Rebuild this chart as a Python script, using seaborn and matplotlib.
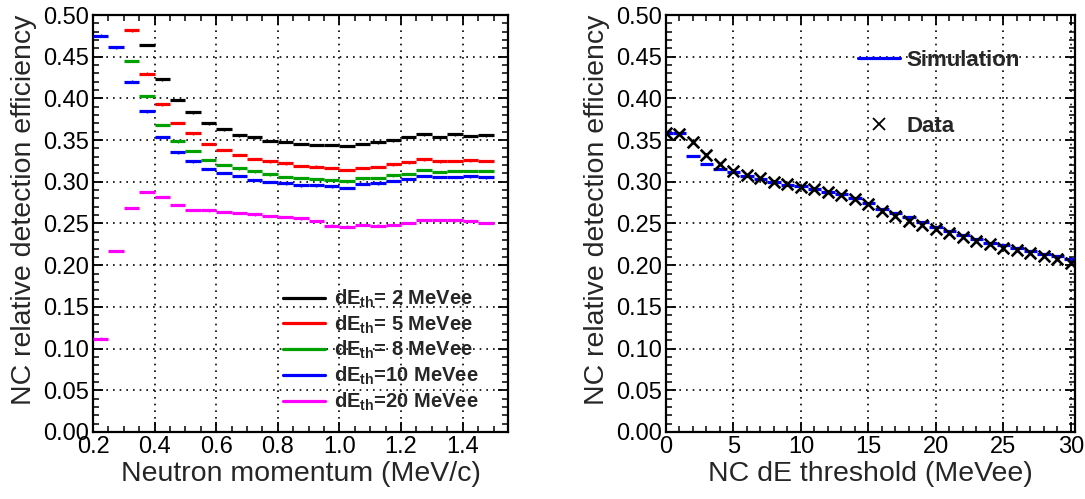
import numpy as np
import pandas as pd
import matplotlib
matplotlib.use("Agg")
import matplotlib.pyplot as plt
import seaborn as sns
from matplotlib.lines import Line2D
from matplotlib.ticker import MultipleLocator, FormatStrFormatter

# ---------------- data ----------------
nan = np.nan
mom_lo = [round(0.20 + 0.05 * i, 2) for i in range(26)]
mom_hi = [round(0.25 + 0.05 * i, 2) for i in range(26)]

eff_2 = [nan, nan, nan, 0.464, 0.4228, 0.398, 0.3832, 0.370, 0.3628, 0.3556, 0.3532, 0.3492, 0.3476,
         0.3454, 0.344, 0.344, 0.3428, 0.3456, 0.3472, 0.3496, 0.3536, 0.3568, 0.354, 0.3568, 0.3552, 0.3556]
eff_5 = [nan, nan, 0.4816, 0.4296, 0.3928, 0.3704, 0.358, 0.3452, 0.3384, 0.3324, 0.3272, 0.3244, 0.322,
         0.3192, 0.3182, 0.3164, 0.314, 0.3164, 0.318, 0.3208, 0.3232, 0.3268, 0.3244, 0.3252, 0.3256, 0.3252]
eff_8 = [nan, nan, 0.4448, 0.4024, 0.3684, 0.3484, 0.3368, 0.3264, 0.3204, 0.316, 0.3124, 0.3088, 0.3056,
         0.3044, 0.3036, 0.302, 0.3004, 0.304, 0.3044, 0.3076, 0.3096, 0.314, 0.312, 0.3128, 0.3132, 0.3132]
eff_10 = [0.4752, 0.4612, 0.420, 0.3844, 0.354, 0.3352, 0.3244, 0.3156, 0.3108, 0.3072, 0.3024, 0.2996, 0.298,
          0.2956, 0.2958, 0.2944, 0.2928, 0.2972, 0.298, 0.3008, 0.3032, 0.3068, 0.306, 0.306, 0.3064, 0.3052]
eff_20 = [0.112, 0.217, 0.2688, 0.2876, 0.2816, 0.2724, 0.2664, 0.2656, 0.2636, 0.2628, 0.2608, 0.2592, 0.258,
          0.256, 0.2532, 0.2476, 0.2464, 0.2484, 0.2476, 0.2488, 0.2508, 0.2544, 0.2544, 0.2536, 0.2528, 0.2508]

series_labels = [r"dE$_{\mathbf{th}}$= 2 MeVee", r"dE$_{\mathbf{th}}$= 5 MeVee", r"dE$_{\mathbf{th}}$= 8 MeVee",
                 r"dE$_{\mathbf{th}}$=10 MeVee", r"dE$_{\mathbf{th}}$=20 MeVee"]
series_colors = ["#000000", "#ff0000", "#00a000", "#0000ff", "#ff00ff"]

thr = list(range(31))
thr_lo = [t - 0.5 for t in thr]
thr_hi = [t + 0.5 for t in thr]
data_eff = [0.3584, 0.357, 0.3476, 0.332, 0.321, 0.3134, 0.3078, 0.304, 0.300, 0.2968, 0.294, 0.2912, 0.288,
            0.284, 0.2792, 0.273, 0.2652, 0.2592, 0.2532, 0.248, 0.2432, 0.2384, 0.2336, 0.2296, 0.226, 0.2212,
            0.218, 0.2144, 0.2112, 0.2072, 0.2028]
sim_eff = [0.358, 0.358, 0.3312, 0.3208, 0.3152, 0.3112, 0.3064, 0.3032, 0.2992, 0.2964, 0.2944, 0.2912, 0.288,
           0.2852, 0.2804, 0.2744, 0.2672, 0.262, 0.2572, 0.2512, 0.246, 0.2412, 0.236, 0.232, 0.2272, 0.2244,
           0.2204, 0.2172, 0.214, 0.2112, 0.2072]

# ---------------- style ----------------
sns.set_theme(style="ticks")
plt.rcParams['font.family'] = ['Liberation Sans', 'DejaVu Sans']
plt.rcParams['mathtext.fontset'] = 'custom'
plt.rcParams['mathtext.rm'] = 'Liberation Sans'
plt.rcParams['mathtext.bf'] = 'Liberation Sans:bold'
plt.rcParams['axes.edgecolor'] = 'black'
plt.rcParams['axes.linewidth'] = 1.5

W, H = 1085, 499
fig = plt.figure(figsize=(W / 100, H / 100), dpi=100)
ax1 = fig.add_axes([93 / W, (H - 432) / H, 415 / W, 417 / H])
ax2 = fig.add_axes([666 / W, (H - 432) / H, 409 / W, 417 / H])

grid_kw = dict(color='black', linestyle=(0, (1, 3)), linewidth=1.2)


def style_axes(ax):
    ax.grid(True, which='major', **grid_kw)
    ax.set_axisbelow(True)
    ax.tick_params(which='both', direction='in', top=True, right=True, colors='black',
                   labelsize=17, pad=3)
    ax.tick_params(which='major', length=7, width=1.3)
    ax.tick_params(which='minor', length=4, width=1.1)
    for s in ax.spines.values():
        s.set_linewidth(1.6)
        s.set_color('black')
    ax.set_ylim(0, 0.5)
    ax.yaxis.set_major_locator(MultipleLocator(0.05))
    ax.yaxis.set_minor_locator(MultipleLocator(0.01))
    ax.yaxis.set_major_formatter(FormatStrFormatter('%.2f'))
    ax.set_ylabel("NC relative detection efficiency", fontsize=20.5, loc='top', labelpad=4)


# ---------------- left panel ----------------
rows = []
for lab, col, vals in zip(series_labels, series_colors, [eff_2, eff_5, eff_8, eff_10, eff_20]):
    for lo, hi, v in zip(mom_lo, mom_hi, vals):
        rows.append(dict(series=lab, color=col, lo=lo, hi=hi, eff=v))
df_left = pd.DataFrame(rows).dropna()

for (lab, col), g in df_left.groupby(['series', 'color'], sort=False):
    ax1.hlines(g['eff'], g['lo'], g['hi'], colors=col, linewidth=2.3, zorder=3)
    ax1.vlines((g['lo'] + g['hi']) / 2, g['eff'] - 0.0015, g['eff'] + 0.0015, colors=col,
               linewidth=1.0, zorder=3)

style_axes(ax1)
ax1.set_xlim(0.2, 1.547)
ax1.xaxis.set_major_locator(MultipleLocator(0.2))
ax1.xaxis.set_minor_locator(MultipleLocator(0.05))
ax1.xaxis.set_major_formatter(FormatStrFormatter('%.1f'))
ax1.set_xlabel("Neutron momentum (MeV/c)", fontsize=20.5, labelpad=2)

handles = [Line2D([], [], color=c, lw=2.3) for c in series_colors]
ax1.legend(handles, series_labels, loc='center left', bbox_to_anchor=(0.458, 0.196),
           frameon=False, prop=dict(weight='bold', size=14.5), handlelength=2.1,
           handletextpad=0.45, labelspacing=0.17, borderpad=0, borderaxespad=0)

# ---------------- right panel ----------------
df_right = pd.DataFrame(dict(thr=thr, lo=thr_lo, hi=thr_hi, data=data_eff, sim=sim_eff))
ax2.hlines(df_right['sim'], df_right['lo'], df_right['hi'], colors='#0000ff', linewidth=2.3, zorder=3)
ax2.vlines(df_right['thr'], df_right['data'] - 0.002, df_right['data'] + 0.002, colors='black',
           linewidth=1.2, zorder=4)
sns.scatterplot(data=df_right, x='thr', y='data', marker='x', s=70, color='black', linewidth=1.9,
                ax=ax2, zorder=4, legend=False)

style_axes(ax2)
ax2.set_xlim(0, 30.3)
ax2.xaxis.set_major_locator(MultipleLocator(5))
ax2.xaxis.set_minor_locator(MultipleLocator(1))
ax2.xaxis.set_major_formatter(FormatStrFormatter('%d'))
ax2.set_xlabel("NC dE threshold (MeVee)", fontsize=20.5, labelpad=2)

h2 = [Line2D([], [], color='#0000ff', lw=2.3),
      Line2D([], [], color='black', marker='x', linestyle='none', markersize=8, markeredgewidth=1.3)]
ax2.legend(h2, ["Simulation", "Data"], loc='center left', bbox_to_anchor=(0.469, 0.812),
           frameon=False, prop=dict(weight='bold', size=16), handlelength=1.9, handletextpad=0.3,
           labelspacing=2.05, borderpad=0, borderaxespad=0)

fig.savefig("out.png", dpi=100)
